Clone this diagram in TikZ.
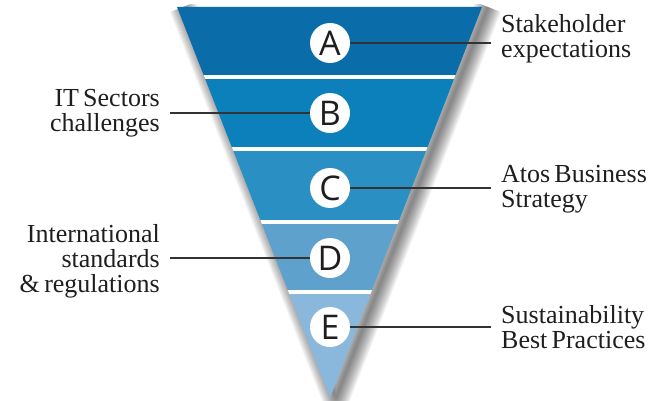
\documentclass[tikz,border=0pt]{standalone}
\usepackage{fontspec}
\setmainfont{Liberation Serif}
\newfontfamily\lettersans{Open Sans}

\definecolor{bandA}{HTML}{0A6CA8}
\definecolor{bandB}{HTML}{0B80BA}
\definecolor{bandC}{HTML}{2A8FC3}
\definecolor{bandD}{HTML}{5DA1CC}
\definecolor{bandE}{HTML}{8AB8DC}
\definecolor{ink}{HTML}{1E1E1E}
\definecolor{rule}{HTML}{333333}

\newcommand\labelfont{\fontsize{26}{25}\selectfont\spaceskip=0.16em plus 0.05em\relax}

\tikzset{
  letter/.style={circle, fill=white, minimum size=40pt, inner sep=0pt,
    font=\lettersans\fontsize{34}{34}\selectfont, text=ink},
  rlabel/.style={anchor=west, align=left, inner sep=10pt,
    font=\labelfont, text=ink},
  llabel/.style={anchor=east, align=right, inner sep=10pt,
    font=\labelfont, text=ink},
  conn/.style={draw=rule, line width=1.2pt},
  gap/.style={draw=white, line width=3.5pt},
  softedge/.style={draw=black, draw opacity=0.045, line join=round, line cap=butt}
}

\begin{document}
\begin{tikzpicture}[x=1pt, y=-1pt]
\useasboundingbox (0,0) rectangle (658,401);

% soft shadow along the slanted sides, built from stacked translucent strokes
\begin{scope}
  \clip (0,5) rectangle (658,401);
  \foreach \w in {2,4,...,28}
    \draw[softedge, line width=\w pt, xshift=6pt]
      (177,7) -- (330,398) -- (482,7);
\end{scope}

% coloured bands, separated by white gaps
\begin{scope}
  \clip (177,7) -- (482,7) -- (330,398) -- cycle;
  \fill[bandA] (170,0) rectangle (500,77);
  \fill[bandB] (170,77) rectangle (500,149);
  \fill[bandC] (170,149) rectangle (500,222);
  \fill[bandD] (170,222) rectangle (500,292);
  \fill[bandE] (170,292) rectangle (500,401);
  \draw[gap] (170,77) -- (500,77);
  \draw[gap] (170,149) -- (500,149);
  \draw[gap] (170,222) -- (500,222);
  \draw[gap] (170,292) -- (500,292);
\end{scope}

% letters
\node[letter] (cA) at (330,43) {A};
\node[letter] (cB) at (330,113) {B};
\node[letter] (cC) at (330,188) {C};
\node[letter] (cD) at (330,258) {D};
\node[letter] (cE) at (330,327) {E};

% labels
\node[rlabel] (tA) at (491,39) {Stakeholder\\expectations};
\node[llabel] (tB) at (170,113) {IT Sectors\\challenges};
\node[rlabel] (tC) at (491,189) {Atos Business\\Strategy};
\node[llabel] (tD) at (170,261) {International\\standards\\\&\,regulations};
\node[rlabel] (tE) at (491,327) {Sustainability\\Best Practices};

% connectors
\draw[conn] (cA.east) -- (cA.east -| tA.west);
\draw[conn] (cB.west) -- (cB.west -| tB.east);
\draw[conn] (cC.east) -- (cC.east -| tC.west);
\draw[conn] (cD.west) -- (cD.west -| tD.east);
\draw[conn] (cE.east) -- (cE.east -| tE.west);
\end{tikzpicture}
\end{document}
